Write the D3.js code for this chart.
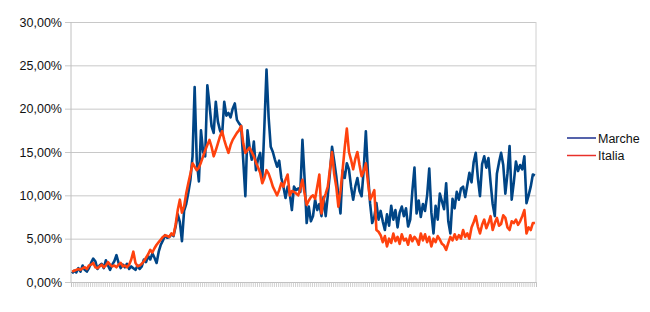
<!DOCTYPE html>
<html>
<head>
<meta charset="utf-8">
<script src="https://cdn.jsdelivr.net/npm/d3@7"></script>
<style>
  html, body { margin: 0; padding: 0; background: #fff; }
  svg { display: block; }
</style>
</head>
<body>
<div id="chart"></div>
<script>
// Quota positivi / tamponi — Marche vs Italia
const seriesNames = ["Marche", "Italia"];
const seriesColors = ["#004586", "#ff420e"];

const marche = [
  1.0, 1.3, 1.1, 1.6, 1.2, 1.9, 1.4, 1.2, 1.6, 2.2,
  2.7, 2.4, 1.5, 1.9, 2.1, 1.6, 2.5, 1.9, 1.4, 2.0,
  2.4, 3.1, 2.2, 1.6, 2.0, 1.7, 2.1, 1.5, 1.8, 1.6,
  1.4, 1.9, 1.5, 1.8, 2.6, 2.3, 3.0, 2.6, 3.3, 2.8,
  2.2, 3.5, 4.3, 4.8, 5.4, 5.1, 5.2, 5.5, 5.3, 6.4,
  7.8, 6.9, 4.7, 8.2, 9.0, 10.3, 11.8, 14.5, 22.5, 14.0,
  11.6, 17.5, 15.0, 14.5, 22.7, 20.5, 18.0, 17.2, 20.8, 18.5,
  17.5, 17.0, 20.8, 19.2, 19.5, 19.0, 20.0, 20.6, 18.7, 18.3,
  18.0, 14.0, 9.9, 17.5, 15.5, 14.1, 16.2, 12.9, 14.2, 14.9,
  11.8, 18.0, 24.5, 19.0, 15.6, 15.0, 14.1, 13.3, 14.0, 12.0,
  11.0, 9.7, 11.0, 10.2, 8.3, 11.0, 10.6, 10.8, 10.4, 16.4,
  12.0, 6.8, 8.7, 7.0, 7.6, 9.5, 8.3, 9.0, 7.6, 9.8,
  7.6, 10.0, 12.6, 15.6, 14.0, 12.2, 10.0, 7.9, 12.9, 12.0,
  13.7, 13.0, 11.0, 9.5, 11.0, 12.0, 10.5, 9.9, 13.0, 17.4,
  12.5, 9.1, 6.8, 7.5, 9.1, 7.2, 8.2, 7.0, 6.0, 7.8,
  6.5, 8.8, 7.2, 8.3, 6.3, 8.0, 8.7, 7.6, 8.5, 6.4,
  7.2, 10.5, 13.2, 7.9, 9.4, 7.5, 9.0, 8.2, 10.0, 13.1,
  8.0, 5.6, 8.8, 7.2, 10.2, 9.3, 8.4, 11.4, 7.0, 5.6,
  9.6, 8.5, 10.4, 9.5, 10.8, 11.0, 9.8, 11.2, 12.6, 11.5,
  13.8, 14.9, 12.0, 9.9, 13.6, 14.5, 13.2, 14.3, 11.5, 9.0,
  7.6, 12.5, 13.8, 14.9, 13.5, 10.2, 12.5, 15.7, 9.5, 11.5,
  13.9, 12.8, 13.5, 13.0, 14.5, 9.1, 10.0, 11.0, 12.4, 12.3
];

const italia = [
  1.2, 1.3, 1.4, 1.5, 1.4, 1.6, 1.7, 1.5, 1.9, 2.0,
  2.2, 1.7, 1.6, 1.8, 2.0, 1.7, 1.9, 2.3, 2.0, 1.8,
  1.9, 1.7, 2.0, 2.2, 1.8, 1.9, 1.7, 2.0, 2.6, 3.5,
  2.2, 1.8, 1.9, 2.1, 2.4, 2.8, 3.2, 3.7, 3.4, 3.9,
  4.3, 4.6, 4.9, 5.2, 5.4, 5.3, 5.2, 5.6, 5.4, 6.6,
  8.3, 9.5, 8.0, 8.7, 10.2, 11.4, 12.5, 13.7, 13.3, 12.9,
  13.2, 13.8, 14.5, 15.2, 15.8, 16.4, 15.6, 14.5, 15.2, 16.0,
  16.8, 17.4, 16.4, 15.6, 14.9, 15.8, 16.4, 16.8, 17.2, 17.5,
  18.0, 16.0, 14.9, 15.2, 15.5, 15.0, 14.5, 13.8, 13.2, 12.6,
  11.4, 12.0, 12.9, 12.5, 11.8, 11.0, 10.5, 10.0, 10.6, 11.4,
  11.0, 11.8, 12.4, 10.0, 10.5, 10.4, 10.2, 10.0, 10.8, 11.8,
  10.2, 8.9, 9.4, 9.8, 10.0, 9.6, 11.0, 12.4, 7.9, 9.5,
  10.2, 11.0, 13.0, 15.0, 12.5, 11.0, 8.7, 10.5, 12.9, 15.5,
  17.7, 15.0, 14.1, 13.0, 14.2, 15.0, 13.5, 12.2, 12.8, 13.7,
  11.5, 9.5, 10.0, 10.6, 6.0, 5.8, 5.4, 4.6, 5.3, 4.1,
  5.0, 4.5, 5.6, 4.7, 5.2, 4.4, 5.5, 4.8, 5.0, 4.3,
  5.4, 4.7, 5.2, 4.9, 4.3, 5.6, 4.8, 5.5, 4.6, 5.2,
  4.1, 5.0, 4.6, 5.3, 4.9, 4.4, 4.2, 3.7, 4.5, 5.2,
  4.8, 5.5, 4.9, 5.4, 5.0, 6.0, 5.2, 5.6, 5.0, 6.3,
  6.9, 7.6, 6.4, 5.6, 6.6, 7.2, 6.2, 6.8, 7.6, 6.0,
  6.8, 7.4, 6.5, 6.7, 7.7, 7.4, 6.3, 6.0, 7.0, 6.8,
  7.2, 6.6, 7.0, 7.6, 8.3, 5.6, 6.3, 6.0, 6.8, 6.8
];

const yTicks = [0, 5, 10, 15, 20, 25, 30];

const width = 650, height = 312;
const M = {top: 22, right: 114, bottom: 30, left: 71};
const innerW = width - M.left - M.right;
const innerH = height - M.top - M.bottom;
const N = marche.length;

const it = d3.formatLocale({decimal: ",", thousands: ".", grouping: [3], currency: ["", " €"]});
const fmt = it.format(".2f");

const x = d3.scaleLinear().domain([0, N]).range([0, innerW]);
const y = d3.scaleLinear().domain([0, 30]).range([innerH, 0]);

const svg = d3.select("#chart").append("svg")
  .attr("width", width).attr("height", height)
  .style("font-family", "'Liberation Sans', Arial, sans-serif");

const g = svg.append("g").attr("transform", `translate(${M.left},${M.top})`);

// griglia orizzontale + asse y
g.append("g")
  .call(d3.axisLeft(y).tickValues(yTicks).tickSize(6).tickPadding(3).tickFormat(d => fmt(d) + "%"))
  .call(ax => ax.select(".domain").remove())
  .call(ax => ax.selectAll(".tick line").clone().attr("x1", 0).attr("x2", innerW))
  .call(ax => ax.selectAll(".tick line").attr("stroke", "#c8c8c8"))
  .call(ax => ax.selectAll(".tick text").attr("font-size", 12.5).attr("fill", "#111"));

// bordi verticali
g.append("line").attr("x1", 0).attr("x2", 0).attr("y1", 0).attr("y2", innerH).attr("stroke", "#c0c0c0");
g.append("line").attr("x1", innerW).attr("x2", innerW).attr("y1", 0).attr("y2", innerH).attr("stroke", "#d0d0d0");

// asse x: una tacca per categoria, etichette non visibili
g.append("g").attr("transform", `translate(0,${innerH})`)
  .call(d3.axisBottom(x).tickValues(d3.range(N + 1)).tickSize(5).tickFormat(""))
  .call(ax => ax.select(".domain").attr("stroke", "#c0c0c0"))
  .call(ax => ax.selectAll(".tick line").attr("stroke", "#c4c4c4").attr("stroke-width", 0.8));

const line = d3.line().x((d, i) => x(i + 0.5)).y(d => y(d));

[marche, italia].forEach((vals, k) => {
  g.append("path").datum(vals)
    .attr("fill", "none")
    .attr("stroke", seriesColors[k])
    .attr("stroke-width", 2.6)
    .attr("stroke-linejoin", "round")
    .attr("d", line);
});

// legenda
const lg = svg.append("g").attr("transform", "translate(567,138)");
seriesNames.forEach((name, k) => {
  lg.append("line").attr("x1", 0).attr("x2", 29).attr("y1", k * 17.5).attr("y2", k * 17.5)
    .attr("stroke", k === 0 ? "#1c2f8f" : "#e8302a").attr("stroke-width", 1.5);
  lg.append("text").attr("x", 31).attr("y", k * 17.5).attr("dy", "0.36em")
    .attr("font-size", 12.5).attr("fill", "#111").text(name);
});
</script>
</body>
</html>
